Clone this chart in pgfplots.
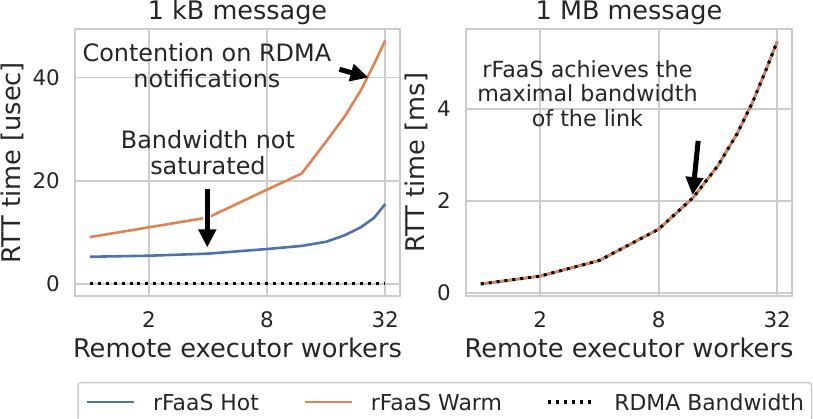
\documentclass[border=0pt]{standalone}
\usepackage{fontspec}
\setmainfont{DejaVu Sans}
\usepackage{pgfplots}
\usepackage{pgfplotstable}
\pgfplotsset{compat=1.18}
\usetikzlibrary{arrows.meta}
\definecolor{sbblue}{HTML}{4C72B0}
\definecolor{sborange}{HTML}{DD8452}
\definecolor{gridc}{HTML}{CCCCCC}
\definecolor{txt}{HTML}{262626}

\pgfplotstableread{
x hot warm bw
1 5.3 9.1 0.1
2 5.5 11.0 0.1
4 5.9 12.9 0.1
8 6.8 18.3 0.1
12 7.4 21.4 0.1
16 8.2 27.6 0.1
20 9.5 32.6 0.1
24 11.0 37.5 0.1
28 12.8 42.5 0.1
32 15.5 47.2 0.1
}\kbdata

\pgfplotstableread{
x hot warm bw
1 0.19 0.19 0.19
2 0.36 0.36 0.36
4 0.70 0.70 0.70
8 1.38 1.38 1.38
12 2.07 2.07 2.07
16 2.76 2.76 2.76
20 3.45 3.45 3.45
24 4.14 4.14 4.14
28 4.83 4.83 4.83
32 5.46 5.46 5.46
}\mbdata

\tikzset{
  annarrow/.style={draw=black, line width=5bp, -{Triangle[width=17bp,length=18bp]},
    preaction={draw=white, line width=8bp, -{Triangle[width=22bp,length=21bp]}}},
  anntext/.style={anchor=base, inner sep=0pt, text=txt},
  hotst/.style={draw=sbblue, line width=2.6bp},
  warmst/.style={draw=sborange, line width=2.6bp},
  bwst/.style={draw=black, line width=3bp, dash pattern=on 3bp off 4.95bp},
}

\pgfplotsset{
  legend image code/.code={\draw[#1] (0bp,0bp) -- (47bp,0bp);},
}

\begin{document}
\begin{tikzpicture}
\begin{axis}[
  scale only axis, width=325bp, height=267bp,
  at={(75bp,123bp)}, anchor=south west,
  xmode=log, log basis x=2, xmin=0.8409, xmax=38.05,
  xtick={2,8,32}, xticklabels={2,8,32},
  ymin=-2.3, ymax=49.4, ytick={0,20,40}, yticklabels={0,20,40},
  grid=major, major grid style={draw=gridc, line width=1.9bp},
  axis line style={draw=gridc, line width=1.9bp},
  major tick length=0pt, tick style={draw=none},
  ticklabel style={font=\fontsize{21.5}{21.5}\selectfont, text=txt},
  yticklabel style={inner sep=0pt, anchor=east, xshift=-15bp},
  xticklabel style={inner sep=0pt, anchor=north, yshift=-15bp},
  label style={font=\fontsize{25.8}{25.8}\selectfont, text=txt},
  xlabel={Remote executor workers},
  xlabel style={at={(axis description cs:0.5,0)}, anchor=north, yshift=-42bp, inner sep=0pt},
  title={1 kB message},
  title style={at={(axis description cs:0.5,1)}, anchor=base, yshift=3.7bp, inner sep=0pt,
      font=\fontsize{25.6}{25.6}\selectfont, text=txt},
  ylabel={RTT time [usec]},
  ylabel style={at={(axis description cs:-0.167,0.5)}, rotate=0, anchor=base, inner sep=0pt},
  clip=false,
  legend columns=3,
  legend style={at={(axis description cs:1.138,-0.397)}, anchor=center,
    draw=gridc, line width=1.5bp, fill=white, rounded corners=3bp,
    font=\fontsize{22}{22}\selectfont, text=txt,
    inner xsep=7.7bp, inner ysep=11bp, column sep=0pt,
    nodes={inner sep=0pt, text depth=0pt}},
]
\addplot[hotst] table[x=x, y=hot] {\kbdata};
\addlegendentry{\rule{17.7bp}{0pt}rFaaS Hot\rule{44.7bp}{0pt}}
\addplot[warmst] table[x=x, y=warm] {\kbdata};
\addlegendentry{\rule{17.7bp}{0pt}rFaaS Warm\rule{44.7bp}{0pt}}
\addplot[bwst] table[x=x, y=bw] {\kbdata};
\addlegendentry{\rule{17.7bp}{0pt}RDMA Bandwidth}

\node[anntext, font=\fontsize{24}{24}\selectfont] at (axis cs:3.95,43.1) {Contention on RDMA};
\node[anntext, font=\fontsize{24}{24}\selectfont] at (axis cs:3.95,38.1) {notifications};
\node[anntext, font=\fontsize{24}{24}\selectfont] at (axis cs:4.0,26.3) {Bandwidth not};
\node[anntext, font=\fontsize{24}{24}\selectfont] at (axis cs:4.0,21.2) {saturated};
\draw[annarrow] (axis cs:18.7,41.6) -- (axis cs:26.3,40.0);
\draw[annarrow] (axis cs:3.97,18.45) -- (axis cs:3.97,7.1);
\end{axis}

\begin{axis}[
  scale only axis, width=326bp, height=267bp,
  at={(466bp,123bp)}, anchor=south west,
  xmode=log, log basis x=2, xmin=0.8409, xmax=38.05,
  xtick={2,8,32}, xticklabels={2,8,32},
  ymin=-0.072, ymax=5.73, ytick={0,2,4}, yticklabels={0,2,4},
  grid=major, major grid style={draw=gridc, line width=1.9bp},
  axis line style={draw=gridc, line width=1.9bp},
  major tick length=0pt, tick style={draw=none},
  ticklabel style={font=\fontsize{21.5}{21.5}\selectfont, text=txt},
  yticklabel style={inner sep=0pt, anchor=east, xshift=-15bp},
  xticklabel style={inner sep=0pt, anchor=north, yshift=-15bp},
  label style={font=\fontsize{25.8}{25.8}\selectfont, text=txt},
  xlabel={Remote executor workers},
  xlabel style={at={(axis description cs:0.5,0)}, anchor=north, yshift=-42bp, inner sep=0pt},
  title={1 MB message},
  title style={at={(axis description cs:0.5,1)}, anchor=base, yshift=3.7bp, inner sep=0pt,
      font=\fontsize{25.6}{25.6}\selectfont, text=txt},
  ylabel={RTT time [ms]},
  ylabel style={at={(axis description cs:-0.126,0.5)}, rotate=0, anchor=base, inner sep=0pt},
  clip=false,
]
\addplot[hotst] table[x=x, y=hot] {\mbdata};
\addplot[warmst] table[x=x, y=warm] {\mbdata};
\addplot[bwst] table[x=x, y=bw] {\mbdata};

\node[anntext, font=\fontsize{22.3}{22.3}\selectfont] at (axis cs:3.48,4.68) {rFaaS achieves the};
\node[anntext, font=\fontsize{22.3}{22.3}\selectfont] at (axis cs:3.48,4.15) {maximal bandwidth};
\node[anntext, font=\fontsize{22.3}{22.3}\selectfont] at (axis cs:3.48,3.61) {of the link};
\draw[annarrow] (axis cs:12.7,3.30) -- (axis cs:11.9,2.12);
\end{axis}
\pgfresetboundingbox
\path (0bp,0bp) rectangle (813bp,419bp);
\end{tikzpicture}
\end{document}
